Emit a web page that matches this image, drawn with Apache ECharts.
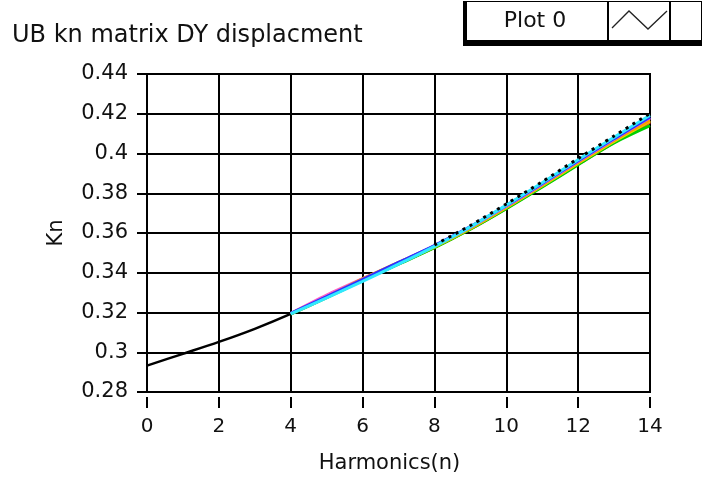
<!DOCTYPE html>
<html>
<head>
<meta charset="utf-8">
<script src="https://cdn.jsdelivr.net/npm/echarts@6/dist/echarts.min.js"></script>
<style>
  html, body { margin: 0; padding: 0; background: #fff; }
  #chart { width: 707px; height: 480px; }
</style>
</head>
<body>
<div id="chart"></div>
<script>
// Harmonic number on the x axis
const harmonics = [0, 1, 2, 3, 4, 5, 6, 7, 8, 9, 10, 11, 12, 13, 14];
const xTicks = [0, 2, 4, 6, 8, 10, 12, 14];
const yTicks = [0.28, 0.3, 0.32, 0.34, 0.36, 0.38, 0.4, 0.42, 0.44];

// Kn values for each run (runs other than the reference start at n = 4)
const knBlack  = [0.2933, 0.2992, 0.3052, 0.3118, 0.3193, 0.3277, 0.3365, 0.3447, 0.3531, 0.3625, 0.3730, 0.3840, 0.3955, 0.4065, 0.4170];
const knBlue   = [null, null, null, null, 0.3196, 0.3280, 0.3366, 0.3452, 0.3537, 0.3632, 0.3738, 0.3849, 0.3964, 0.4075, 0.4184];
const knPink   = [null, null, null, null, 0.3195, 0.3287, 0.3370, 0.3450, 0.3534, 0.3628, 0.3734, 0.3845, 0.3960, 0.4071, 0.4177];
const knRed    = [null, null, null, null, 0.3193, 0.3283, 0.3364, 0.3445, 0.3527, 0.3620, 0.3724, 0.3834, 0.3946, 0.4056, 0.4158];
const knOrange = [null, null, null, null, 0.3194, 0.3278, 0.3369, 0.3452, 0.3534, 0.3626, 0.3731, 0.3841, 0.3955, 0.4066, 0.4167];
const knGreen  = [null, null, null, null, 0.3192, 0.3275, 0.3361, 0.3443, 0.3526, 0.3619, 0.3722, 0.3831, 0.3944, 0.4053, 0.4140];
const knCyan   = [null, null, null, null, 0.3193, 0.3274, 0.3357, 0.3443, 0.3533, 0.3631, 0.3740, 0.3853, 0.3969, 0.4081, 0.4192];
const knYellow = [null, null, null, null, 0.3194, 0.3277, 0.3365, 0.3447, 0.3530, 0.3623, 0.3728, 0.3838, 0.3951, 0.4061, 0.4163];
const knPurple = [null, null, null, null, 0.3195, 0.3279, 0.3366, 0.3450, 0.3535, 0.3629, 0.3735, 0.3846, 0.3961, 0.4072, 0.4181];
const knUpper  = [null, null, null, null, null, null, null, null, 0.3540, 0.3638, 0.3746, 0.3858, 0.3975, 0.4088, 0.4202];

// later entries are drawn on top
const runs = [
  { name: 'Plot 0', data: knBlack,  color: '#000000', type: 'solid' },
  { name: 'Plot 1', data: knRed,    color: '#ff1a1a', type: 'solid' },
  { name: 'Plot 2', data: knPink,   color: '#ff5fc8', type: 'solid' },
  { name: 'Plot 3', data: knGreen,  color: '#00d000', type: 'solid' },
  { name: 'Plot 4', data: knYellow, color: '#e0e000', type: 'solid' },
  { name: 'Plot 5', data: knOrange, color: '#ff9900', type: 'solid' },
  { name: 'Plot 6', data: knPurple, color: '#b366ff', type: 'solid' },
  { name: 'Plot 7', data: knBlue,   color: '#2f2fff', type: 'solid' },
  { name: 'Plot 8', data: knCyan,   color: '#30e8ff', type: 'solid' },
  { name: 'Plot 9', data: knUpper,  color: '#000000', type: [3, 5] }
];

const font = '"DejaVu Sans", sans-serif';

const chart = echarts.init(document.getElementById('chart'), null, { renderer: 'canvas' });

chart.setOption({
  animation: false,
  backgroundColor: '#ffffff',
  title: {
    text: 'UB kn matrix DY displacment',
    left: 7,
    top: 19,
    textStyle: { fontFamily: font, fontSize: 24, fontWeight: 'normal', color: '#111' }
  },
  grid: {
    left: 147, top: 74, width: 503, height: 318,
    show: true, borderColor: '#000', borderWidth: 2, backgroundColor: '#fff'
  },
  xAxis: {
    type: 'value',
    min: 0, max: 14, interval: 2,
    offset: 5,
    name: 'Harmonics(n)',
    nameLocation: 'middle',
    nameGap: 56,
    nameTextStyle: { fontFamily: font, fontSize: 21, color: '#111', padding: [0, 18, 0, 0] },
    axisLine: { show: false },
    axisTick: { show: true, length: 11, lineStyle: { color: '#000', width: 2 } },
    axisLabel: {
      margin: 20, fontFamily: font, fontSize: 20, color: '#111',
      formatter: v => xTicks.includes(v) ? String(v) : ''
    },
    splitLine: { show: true, lineStyle: { color: '#000', width: 2 } }
  },
  yAxis: {
    type: 'value',
    min: 0.28, max: 0.44, interval: 0.02,
    offset: 3,
    name: 'Kn',
    nameLocation: 'middle',
    nameGap: 77,
    nameRotate: 90,
    nameTextStyle: { fontFamily: font, fontSize: 21, color: '#111' },
    axisLine: { show: true, lineStyle: { color: '#000', width: 2 } },
    axisTick: { show: true, length: 10, lineStyle: { color: '#000', width: 2 } },
    axisLabel: {
      margin: 16, fontFamily: font, fontSize: 21, color: '#111',
      formatter: v => {
        const t = yTicks.find(k => Math.abs(k - v) < 1e-9);
        return t === undefined ? '' : String(t);
      }
    },
    splitLine: { show: true, lineStyle: { color: '#000', width: 2 } }
  },
  series: runs.map((r, idx) => ({
    name: r.name,
    type: 'line',
    data: r.data.map((v, i) => [harmonics[i], v]),
    showSymbol: false,
    smooth: 0.3,
    connectNulls: false,
    lineStyle: { color: r.color, width: idx === 0 ? 2.5 : 3, type: r.type },
    silent: true
  })),
  graphic: [
    // legend frame
    { type: 'rect', shape: { x: 463, y: 1, width: 239, height: 45 }, style: { fill: '#000' } },
    { type: 'rect', shape: { x: 467, y: 2, width: 140, height: 38 }, style: { fill: '#fff' } },
    { type: 'rect', shape: { x: 609, y: 2, width: 60, height: 38 }, style: { fill: '#fff' } },
    { type: 'rect', shape: { x: 671, y: 2, width: 30, height: 38 }, style: { fill: '#fff' } },
    {
      type: 'text', x: 535, y: 21,
      style: { text: 'Plot 0', fontFamily: font, fontSize: 22, fill: '#111', align: 'center', verticalAlign: 'middle' }
    },
    {
      type: 'polyline',
      shape: { points: [[612, 28], [629, 11], [648, 29], [667, 11]] },
      style: { stroke: '#222', lineWidth: 1.3, fill: null }
    }
  ]
});
</script>
</body>
</html>
